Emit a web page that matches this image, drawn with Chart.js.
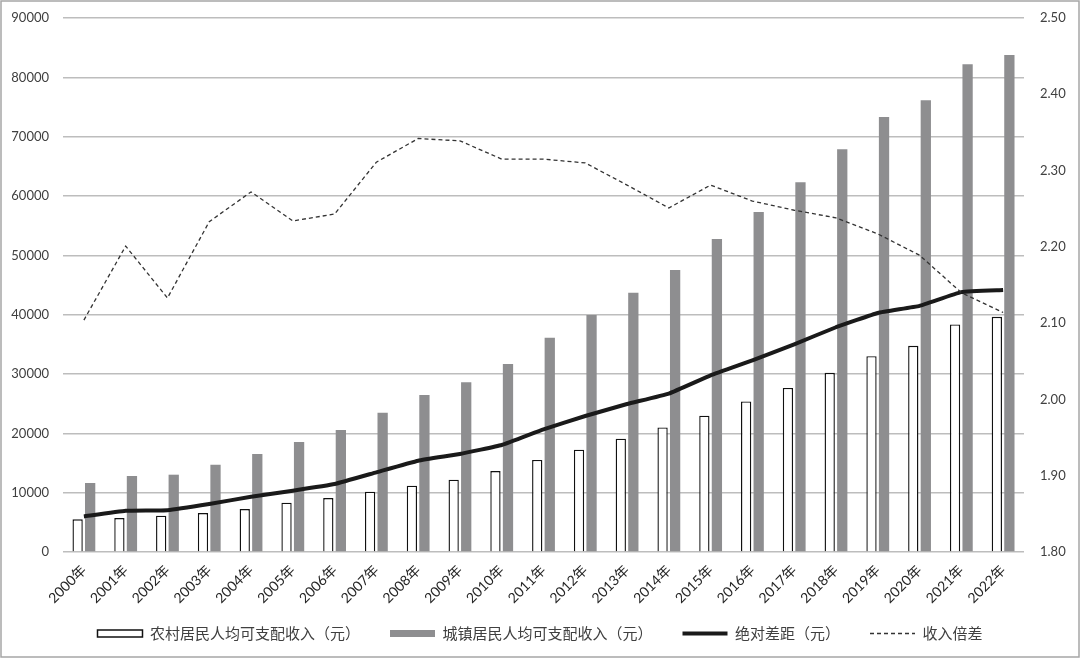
<!DOCTYPE html>
<html>
<head>
<meta charset="utf-8">
<script src="https://cdn.jsdelivr.net/npm/chart.js@4.4.1/dist/chart.umd.min.js"></script>
<style>
  html, body { margin: 0; padding: 0; background: #ffffff; }
  #wrap { width: 1080px; height: 658px; }
</style>
</head>
<body>
<div id="wrap"><canvas id="c" width="1080" height="658"></canvas></div>
<script>
// ---- data ----
const years = ["2000年","2001年","2002年","2003年","2004年","2005年","2006年","2007年","2008年","2009年","2010年","2011年","2012年","2013年","2014年","2015年","2016年","2017年","2018年","2019年","2020年","2021年","2022年"];
const ruralIncome = [5510, 5730, 6120, 6570, 7250, 8310, 9100, 10160, 11180, 12190, 13650, 15510, 17250, 19100, 21000, 22970, 25380, 27660, 30190, 33010, 34760, 38360, 39630];
const urbanIncome = [11630, 12810, 13030, 14720, 16520, 18540, 20560, 23480, 26460, 28600, 31690, 36120, 39950, 43710, 47530, 52740, 57310, 62300, 67890, 73300, 76130, 82200, 83760];
const absoluteGap = [6000, 6950, 7050, 8090, 9320, 10340, 11460, 13430, 15390, 16520, 18030, 20680, 22920, 24940, 26700, 29770, 32300, 35000, 37880, 40290, 41490, 43800, 44150];
const incomeRatio = [2.104, 2.201, 2.133, 2.233, 2.272, 2.234, 2.243, 2.311, 2.342, 2.339, 2.315, 2.315, 2.310, 2.281, 2.251, 2.281, 2.260, 2.248, 2.238, 2.217, 2.189, 2.140, 2.114];
const seriesNames = ["农村居民人均可支配收入（元）", "城镇居民人均可支配收入（元）", "绝对差距（元）", "收入倍差"];
const leftTicks = { min: 0, max: 90000, step: 10000 };
const rightTicks = { min: 1.8, max: 2.5, step: 0.1 };

const tickFont = { family: "Lato, 'Noto Sans CJK SC', sans-serif", size: 13 };
const xFont = { family: "Lato, 'Noto Sans CJK SC', sans-serif", size: 14 };
const textColor = '#404040';

const framePlugin = {
  id: 'frame',
  afterLayout(chart) {
    // lift the legend closer to the axis labels, as in the reference
    if (chart.legend) {
      chart.legend.top -= 20;
      chart.legend.bottom -= 20;
    }
  },
  afterDraw(chart) {
    const ctx = chart.ctx;
    ctx.save();
    ctx.strokeStyle = '#a6a6a6';
    ctx.lineWidth = 1.5;
    ctx.strokeRect(1, 1, chart.width - 2, chart.height - 2);
    ctx.restore();
  }
};

new Chart(document.getElementById('c'), {
  data: {
    labels: years,
    datasets: [
      {
        type: 'line', label: seriesNames[2], data: absoluteGap, yAxisID: 'y',
        borderColor: '#1a1a1a', backgroundColor: '#1a1a1a', borderWidth: 4,
        pointRadius: 0, tension: 0.1, order: 1,
        pointStyle: 'line'
      },
      {
        type: 'line', label: seriesNames[3], data: incomeRatio, yAxisID: 'y1',
        borderColor: '#333333', backgroundColor: '#333333', borderWidth: 1.3,
        borderDash: [4, 3], pointRadius: 0, tension: 0, order: 0,
        pointStyle: 'line'
      },
      {
        type: 'bar', label: seriesNames[0], data: ruralIncome, yAxisID: 'y',
        backgroundColor: '#ffffff', borderColor: '#111111', borderWidth: 1.4,
        barPercentage: 0.82, categoryPercentage: 0.6, order: 2,
        pointStyle: 'rect'
      },
      {
        type: 'bar', label: seriesNames[1], data: urbanIncome, yAxisID: 'y',
        backgroundColor: '#8e8e90', borderWidth: 0,
        barPercentage: 0.82, categoryPercentage: 0.6, order: 3,
        pointStyle: 'rect'
      }
    ]
  },
  options: {
    responsive: false,
    animation: false,
    devicePixelRatio: 1,
    layout: { padding: { top: 18, bottom: -13, left: 0, right: 0 } },
    plugins: {
      tooltip: { enabled: false },
      legend: {
        position: 'bottom',
        labels: {
          usePointStyle: true,
          pointStyleWidth: 45,
          boxHeight: 7,
          padding: 30,
          color: textColor,
          font: { family: "'Noto Sans CJK SC', sans-serif", size: 15 },
          sort: (a, b) => {
            const orderMap = [2, 3, 0, 1];
            return orderMap[a.datasetIndex] - orderMap[b.datasetIndex];
          },
          generateLabels(chart) {
            const ds = chart.data.datasets;
            return ds.map((d, i) => {
              const isBar = d.type === 'bar';
              return {
                text: d.label,
                datasetIndex: i,
                fillStyle: isBar ? d.backgroundColor : d.borderColor,
                strokeStyle: isBar ? (d.borderWidth ? d.borderColor : d.backgroundColor) : d.borderColor,
                lineWidth: isBar ? (d.borderWidth ? 1.5 : 0) : (d.borderWidth > 2 ? 4 : 1.5),
                lineDash: d.borderDash || [],
                pointStyle: d.pointStyle,
                fontColor: textColor,
                hidden: false
              };
            });
          }
        }
      }
    },
    scales: {
      x: {
        grid: { display: false },
        border: { display: false },
        ticks: {
          color: '#262626', font: xFont,
          maxRotation: 45, minRotation: 45, autoSkip: false, padding: 2
        },
        afterFit(s) { s.height = 64; }
      },
      y: {
        position: 'left',
        min: leftTicks.min, max: leftTicks.max,
        ticks: { stepSize: leftTicks.step, color: textColor, font: tickFont, padding: 10,
          callback: v => String(v) },
        grid: { color: '#bdbdbd', lineWidth: 1.5, drawTicks: true, tickLength: 4, tickColor: 'rgba(0,0,0,0)' },
        border: { display: false },
        afterFit(s) { s.width = 63; }
      },
      y1: {
        position: 'right',
        min: rightTicks.min, max: rightTicks.max,
        ticks: {
          stepSize: rightTicks.step, color: textColor, font: tickFont, padding: 10,
          callback: v => Number(v).toFixed(2)
        },
        grid: { display: true, drawOnChartArea: false, drawTicks: true, tickLength: 6,
          color: 'rgba(0,0,0,0)', tickColor: 'rgba(0,0,0,0)' },
        border: { display: false },
        afterFit(s) { s.width = 56; }
      }
    }
  },
  plugins: [framePlugin]
});
</script>
</body>
</html>
